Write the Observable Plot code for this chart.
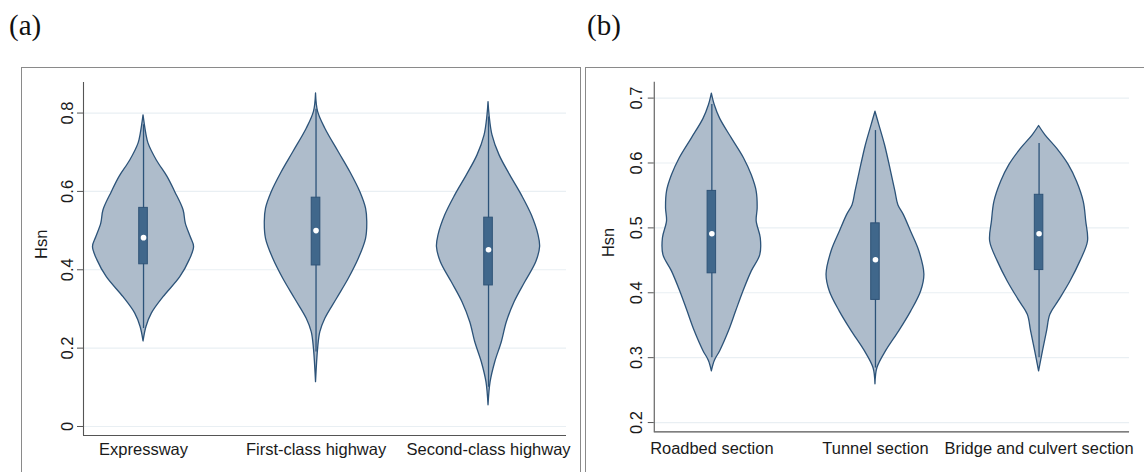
<!DOCTYPE html>
<html><head><meta charset="utf-8">
<script src="https://cdn.jsdelivr.net/npm/d3@7"></script>
<script src="https://cdn.jsdelivr.net/npm/@observablehq/plot@0.6"></script>
<style>
body{margin:0;background:#fff;width:1144px;height:472px;overflow:hidden;position:relative;font-family:"Liberation Sans",Arial,sans-serif}
.tag{position:absolute;font-family:"Liberation Serif","Times New Roman",serif;font-size:29px;line-height:1;color:#111}
.frame{position:absolute;top:67px;height:430px;border:1.3px solid #8a8a8a;box-sizing:border-box}
.panel{position:absolute;top:67px}
</style></head><body>
<div class="tag" style="left:9px;top:11px">(a)</div>
<div class="tag" style="left:587px;top:11px">(b)</div>
<div class="frame" style="left:21px;width:560px"></div>
<div class="frame" style="left:585px;width:600px"></div>
<div id="a" class="panel" style="left:22px"></div>
<div id="b" class="panel" style="left:586px"></div>
<script>
// ---------- data ----------
const groupsA = ["Expressway", "First-class highway", "Second-class highway"];
const groupsB = ["Roadbed section", "Tunnel section", "Bridge and culvert section"];
const ticksA = [0, 0.2, 0.4, 0.6, 0.8];
const ticksB = [0.2, 0.3, 0.4, 0.5, 0.6, 0.7];
const yLabel = "Hsn";

// density outlines: Hsn value and half-width (in category units)
const expresswayHsn   = [0.794, 0.747, 0.722, 0.679, 0.637, 0.598, 0.552, 0.518, 0.483, 0.458, 0.424, 0.381, 0.330, 0.288, 0.254, 0.217];
const expresswayWidth = [0, 0.016, 0.029, 0.077, 0.139, 0.184, 0.232, 0.245, 0.274, 0.293, 0.267, 0.213, 0.116, 0.048, 0.017, 0];
const firstHsn   = [0.850, 0.803, 0.760, 0.700, 0.649, 0.598, 0.556, 0.522, 0.479, 0.428, 0.377, 0.326, 0.275, 0.241, 0.198, 0.113];
const firstWidth = [0, 0.012, 0.054, 0.132, 0.199, 0.257, 0.290, 0.297, 0.290, 0.248, 0.190, 0.122, 0.054, 0.025, 0.012, 0];
const secondHsn   = [0.828, 0.794, 0.743, 0.692, 0.641, 0.590, 0.539, 0.488, 0.458, 0.420, 0.368, 0.317, 0.266, 0.215, 0.164, 0.113, 0.054];
const secondWidth = [0, 0.006, 0.023, 0.064, 0.126, 0.193, 0.251, 0.290, 0.299, 0.277, 0.213, 0.151, 0.106, 0.077, 0.039, 0.012, 0];
const roadbedHsn   = [0.707, 0.689, 0.668, 0.638, 0.607, 0.581, 0.556, 0.530, 0.510, 0.484, 0.458, 0.433, 0.402, 0.371, 0.341, 0.310, 0.295, 0.279];
const roadbedWidth = [0, 0.018, 0.051, 0.122, 0.197, 0.244, 0.274, 0.280, 0.274, 0.299, 0.296, 0.244, 0.193, 0.148, 0.105, 0.051, 0.018, 0];
const tunnelHsn   = [0.679, 0.658, 0.627, 0.586, 0.556, 0.535, 0.520, 0.494, 0.464, 0.428, 0.402, 0.371, 0.341, 0.310, 0.284, 0.259];
const tunnelWidth = [0, 0.024, 0.059, 0.096, 0.122, 0.140, 0.173, 0.218, 0.268, 0.299, 0.279, 0.218, 0.146, 0.065, 0.012, 0];
const bridgeHsn   = [0.657, 0.643, 0.622, 0.597, 0.571, 0.540, 0.510, 0.479, 0.448, 0.417, 0.387, 0.366, 0.341, 0.310, 0.279];
const bridgeWidth = [0, 0.038, 0.110, 0.181, 0.232, 0.273, 0.288, 0.299, 0.252, 0.191, 0.120, 0.069, 0.049, 0.024, 0];

// box statistics
const medianA = [0.482, 0.500, 0.451];
const q1A     = [0.414, 0.411, 0.360];
const q3A     = [0.558, 0.584, 0.533];
const lowA    = [0.250, 0.190, 0.100];
const highA   = [0.770, 0.810, 0.790];
const medianB = [0.491, 0.451, 0.491];
const q1B     = [0.430, 0.389, 0.435];
const q3B     = [0.557, 0.507, 0.551];
const lowB    = [0.300, 0.284, 0.300];
const highB   = [0.690, 0.650, 0.630];

// ---------- drawing ----------
const FILL = "#aebccb", EDGE = "#2c5379", BOX = "#40678b", GRID = "#e9eff3", AXIS = "#555", TXT = "#1a1a1a";
const FS = 16.5;

function panel(el, cfg) {
  const rows = [];
  cfg.profiles.forEach(([hs, ws], i) => hs.forEach((v, j) => rows.push({g: i + 1, v, w: ws[j]})));
  const stats = cfg.median.map((m, i) => ({g: i + 1, m, q1: cfg.q1[i], q3: cfg.q3[i], lo: cfg.low[i], hi: cfg.high[i]}));
  const bw = cfg.boxHalf;
  const p = Plot.plot({
    width: cfg.width, height: cfg.height,
    marginLeft: cfg.ml, marginRight: cfg.mr, marginTop: cfg.mt, marginBottom: cfg.mb,
    style: {fontFamily: '"Liberation Sans", Arial, sans-serif', fontSize: FS + "px", color: TXT, background: "transparent"},
    x: {type: "linear", domain: cfg.xdom, axis: null},
    y: {domain: cfg.ydom, axis: null},
    marks: [
      Plot.gridY(cfg.ticks, {stroke: GRID, strokeOpacity: 1, strokeWidth: 1.2}),
      Plot.ruleX([cfg.xdom[0]], {stroke: AXIS, strokeWidth: 1.1}),
      Plot.ruleY([cfg.ydom[0]], {stroke: AXIS, strokeWidth: 1.1}),
      Plot.axisY({ticks: cfg.ticks, tickFormat: d => String(d), tickRotate: -90, tickSize: 6, tickPadding: cfg.tp, stroke: AXIS, fill: TXT, fontSize: FS, label: null}),
      Plot.axisX({ticks: [1, 2, 3], tickFormat: i => cfg.groups[i - 1], tickSize: 0, tickPadding: cfg.xp, fill: TXT, fontSize: FS, label: null}),
      Plot.text([yLabel], {frameAnchor: "left", dx: cfg.ldx, rotate: -90, fontSize: FS, fill: TXT}),
      Plot.areaX(rows, {y: "v", x1: d => d.g - d.w, x2: d => d.g + d.w, z: "g", fill: FILL, stroke: EDGE, strokeWidth: 1.3, curve: "catmull-rom"}),
      Plot.ruleX(stats, {x: "g", y1: "lo", y2: "hi", stroke: EDGE, strokeWidth: 1.3}),
      Plot.rect(stats, {x1: d => d.g - bw, x2: d => d.g + bw, y1: "q1", y2: "q3", fill: BOX, stroke: "#2f5377", strokeWidth: 1}),
      Plot.dot(stats, {x: "g", y: "m", r: 2.8, fill: "white", stroke: null})
    ]
  });
  el.appendChild(p);
}

panel(document.getElementById("a"), {
  groups: groupsA, ticks: ticksA,
  profiles: [[expresswayHsn, expresswayWidth], [firstHsn, firstWidth], [secondHsn, secondWidth]],
  median: medianA, q1: q1A, q3: q3A, low: lowA, high: highA,
  width: 558, height: 420, ml: 61, mr: 14, mt: 15, mb: 52,
  xdom: [0.652, 3.452], ydom: [-0.023, 0.878], tp: 5, xp: 8, ldx: -41.5, boxHalf: 0.025
});
panel(document.getElementById("b"), {
  groups: groupsB, ticks: ticksB,
  profiles: [[roadbedHsn, roadbedWidth], [tunnelHsn, tunnelWidth], [bridgeHsn, bridgeWidth]],
  median: medianB, q1: q1B, q3: q3B, low: lowB, high: highB,
  width: 560, height: 420, ml: 68, mr: 15, mt: 14.7, mb: 54.3,
  xdom: [0.648, 3.553], ydom: [0.1856, 0.7246], tp: 6.3, xp: 10, ldx: -45.5, boxHalf: 0.026
});
</script>
</body></html>
